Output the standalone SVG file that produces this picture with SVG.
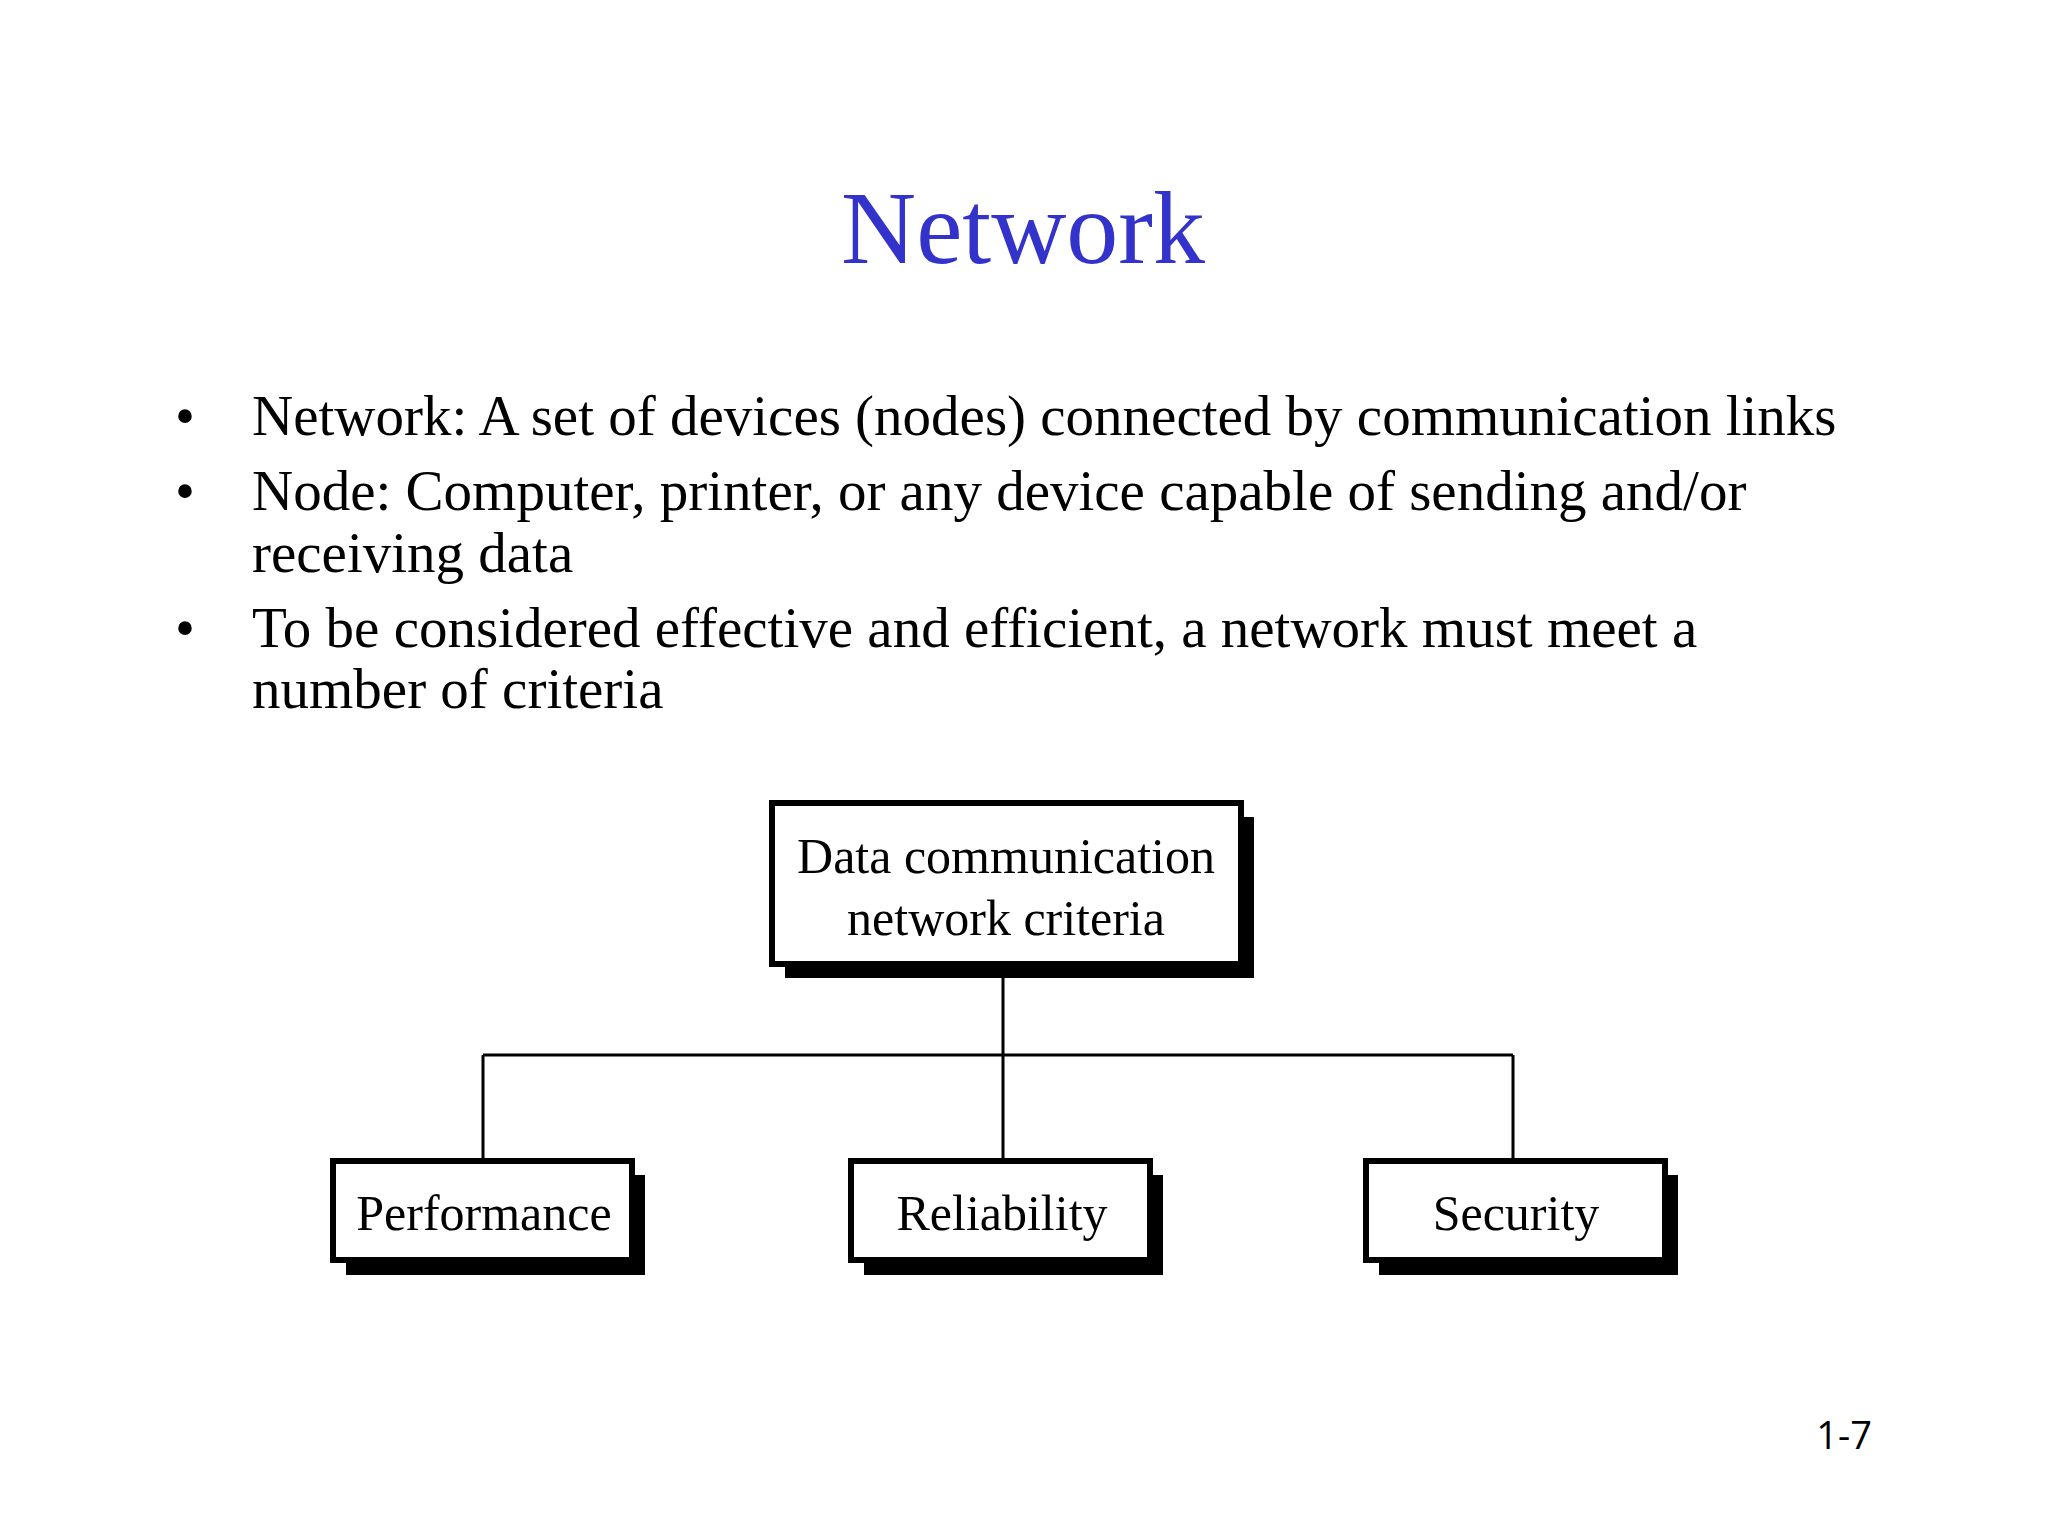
<svg xmlns="http://www.w3.org/2000/svg" width="2048" height="1536" viewBox="0 0 2048 1536">
<style>
.serif{font-family:"Liberation Serif","Times New Roman",serif;fill:#000}
.title{font-size:104px;fill:#3333CC}
.bul{font-size:57px}
.lbl{font-size:50px;text-anchor:middle}
.box{fill:#fff;stroke:#000;stroke-width:6}
.shadow{fill:#000}
.conn{fill:none;stroke:#000;stroke-width:3}
.pg{font-family:"Open Sans","DejaVu Sans",sans-serif;font-size:38px;fill:#000;text-anchor:end}
</style>
<rect width="2048" height="1536" fill="#fff"/>
<text class="serif title" x="1023" y="263" text-anchor="middle">Network</text>
<g id="bullets" class="serif bul">
<text x="185" y="435" text-anchor="middle">•</text>
<text x="252" y="435">Network: A set of devices (nodes) connected by communication links</text>
<text x="185" y="510" text-anchor="middle">•</text>
<text x="252" y="510">Node: Computer, printer, or any device capable of sending and/or</text>
<text x="252" y="572">receiving data</text>
<text x="185" y="647" text-anchor="middle">•</text>
<text x="252" y="647">To be considered effective and efficient, a network must meet a</text>
<text x="252" y="708">number of criteria</text>
</g>
<g id="connectors">
<path class="conn" d="M1003 967 V1158 M483 1055 H1513 M483 1055 V1158 M1513 1055 V1158"/>
</g>
<g id="node-criteria">
<rect class="shadow" x="785" y="817" width="469" height="161"/>
<rect class="box" x="772" y="803" width="469" height="161"/>
<text class="serif lbl" x="1006" y="873">Data communication</text>
<text class="serif lbl" x="1006" y="935">network criteria</text>
</g>
<g id="node-performance">
<rect class="shadow" x="346" y="1175" width="299" height="100"/>
<rect class="box" x="333" y="1161" width="299" height="99"/>
<text class="serif lbl" x="484" y="1230">Performance</text>
</g>
<g id="node-reliability">
<rect class="shadow" x="864" y="1175" width="299" height="100"/>
<rect class="box" x="851" y="1161" width="299" height="99"/>
<text class="serif lbl" x="1002" y="1230">Reliability</text>
</g>
<g id="node-security">
<rect class="shadow" x="1379" y="1175" width="299" height="100"/>
<rect class="box" x="1366" y="1161" width="299" height="99"/>
<text class="serif lbl" x="1516" y="1230">Security</text>
</g>
<text class="pg" x="1872" y="1449">1-7</text>
</svg>
